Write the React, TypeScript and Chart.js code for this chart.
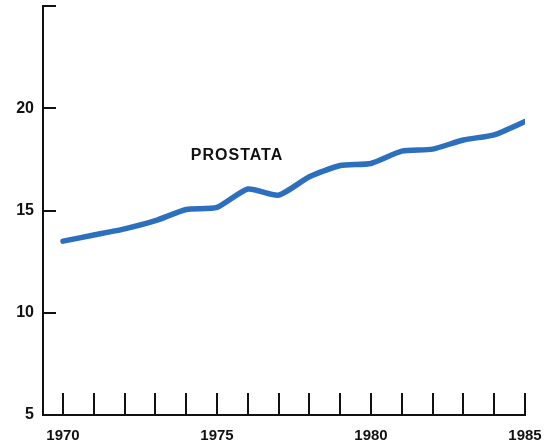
import { useEffect, useRef } from "react";
import { Chart, registerables } from "chart.js";

Chart.register(...registerables);

const years = [1970, 1971, 1972, 1973, 1974, 1975, 1976, 1977, 1978, 1979, 1980, 1981, 1982, 1983, 1984, 1985];
const rates = [13.5, 13.8, 14.1, 14.5, 15.05, 15.15, 16.05, 15.75, 16.65, 17.2, 17.3, 17.9, 18.0, 18.45, 18.7, 19.35];
const yTicks = [5, 10, 15, 20, 25];
const labeledYears = [1970, 1975, 1980, 1985];
const hiddenYLabels = [25];
const seriesLabel = "PROSTATA";

const FONT = '"Liberation Sans", Arial, Helvetica, sans-serif';

export default function App() {
  const ref = useRef<HTMLCanvasElement>(null);

  useEffect(() => {
    if (!ref.current) return;
    const textPlugin = {
      id: "seriesLabel",
      afterDatasetsDraw(chart: any) {
        const { ctx, scales } = chart;
        const x = scales.x;
        const y = scales.y;
        ctx.save();
        ctx.font = `bold 16px ${FONT}`;
        (ctx as any).letterSpacing = "1px";
        ctx.fillStyle = "#111";
        ctx.textAlign = "center";
        ctx.textBaseline = "middle";
        ctx.fillText(seriesLabel, x.getPixelForValue(1975.65), y.getPixelForValue(17.7));
        ctx.restore();
      },
    };

    const chart = new Chart(ref.current, {
      type: "line",
      data: {
        datasets: [
          {
            data: years.map((yr, i) => ({ x: yr, y: rates[i] })),
            borderColor: "#2c6fbe",
            borderWidth: 5.5,
            pointRadius: 0,
            tension: 0.2,
            borderCapStyle: "round",
            borderJoinStyle: "round",
            fill: false,
          },
        ],
      },
      options: {
        responsive: false,
        animation: false,
        devicePixelRatio: 1,
        layout: { padding: { top: 6, right: 29, left: 0, bottom: 0 } },
        plugins: { legend: { display: false }, tooltip: { enabled: false } },
        scales: {
          x: {
            type: "linear",
            min: 1969.35,
            max: 1985,
            afterBuildTicks: (s: any) => {
              s.ticks = years.map((v) => ({ value: v }));
            },
            afterFit: (s: any) => {
              s.height = 33;
              s.paddingLeft = 0;
              s.paddingRight = 0;
            },
            grid: {
              display: true,
              drawOnChartArea: false,
              drawTicks: true,
              tickLength: -22,
              color: "#111",
              lineWidth: 2,
            },
            border: { display: true, color: "#111", width: 2 },
            ticks: {
              autoSkip: false,
              maxRotation: 0,
              padding: 34,
              color: "#111",
              font: { family: FONT, size: 15, weight: "bold" },
              callback: (v: any) => (labeledYears.includes(Number(v)) ? String(v) : ""),
            },
          },
          y: {
            type: "linear",
            min: 5,
            max: 25,
            afterBuildTicks: (s: any) => {
              s.ticks = yTicks.map((v) => ({ value: v }));
            },
            afterFit: (s: any) => {
              s.width = 43;
              s.paddingTop = 0;
              s.paddingBottom = 0;
            },
            grid: {
              display: true,
              drawOnChartArea: false,
              drawTicks: true,
              tickLength: -13,
              color: "#111",
              lineWidth: 2,
            },
            border: { display: true, color: "#111", width: 2 },
            ticks: {
              padding: 22,
              color: "#111",
              font: { family: FONT, size: 16, weight: "bold" },
              callback: (v: any) => (hiddenYLabels.includes(Number(v)) ? "" : String(v)),
            },
          },
        },
      },
      plugins: [textPlugin],
    } as any);

    return () => chart.destroy();
  }, []);

  return (
    <div style={{ position: "fixed", left: 0, top: 0, width: 554, height: 448, background: "#fff" }}>
      <canvas ref={ref} width={554} height={448} style={{ display: "block" }} />
    </div>
  );
}
